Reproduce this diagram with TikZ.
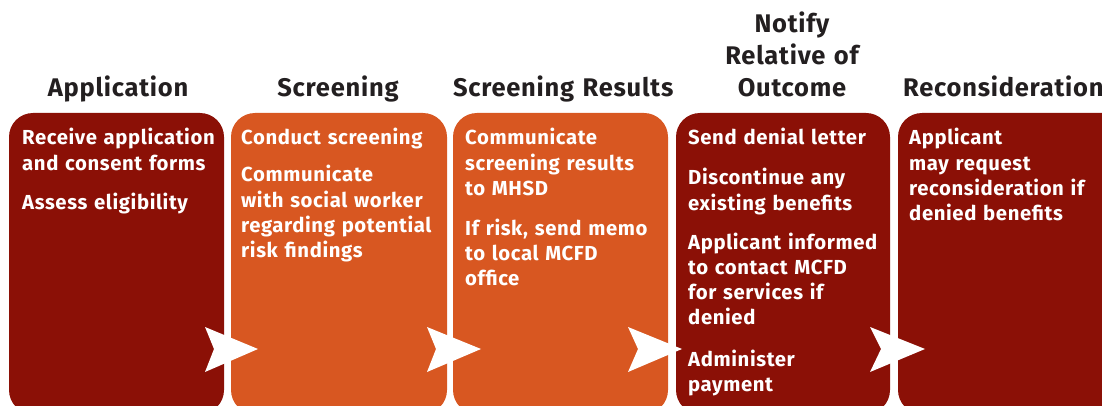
\documentclass[tikz,border=0pt]{standalone}
\usepackage{fontspec}
\setmainfont{Fira Sans}[LetterSpace=3]
\definecolor{wine}{HTML}{8B1006}
\definecolor{rust}{HTML}{D85721}
\definecolor{ink}{HTML}{231F20}
\begin{document}
\begin{tikzpicture}[x=1pt,y=-1pt,
  panel/.style={rounded corners=24pt},
  head/.style={font=\bfseries\fontsize{25.5}{32}\selectfont, text=ink,
    text width=220pt, align=center, anchor=base, inner sep=0pt},
  item/.style={font=\bfseries\fontsize{20.3}{25.3}\selectfont, text=white,
    text width=240pt, align=left, anchor=base west, inner sep=0pt},
  chevron/.style={fill=white}]
\useasboundingbox (0,0) rectangle (1102,406);
\clip (0,0) rectangle (1102,406);

% stage panels
\fill[wine, panel] (9,113)   rectangle (224,414);
\fill[rust, panel] (231,113) rectangle (447,414);
\fill[rust, panel] (453,113) rectangle (668,414);
\fill[wine, panel] (676,113) rectangle (890,414);
\fill[wine, panel] (898,113) rectangle (1140,414);

% stage titles
\node[head] (h1) at (118,97) {Application};
\node[head] (h2) at (338,97) {Screening};
\node[head] (h3) at (563,97) {Screening Results};
\node[head] (h4) at (792,33) {Notify\\Relative of\\Outcome};
\node[head, align=left, anchor=base west] (h5) at (903,97) {Reconsideration};

% panel contents
\node[item] (a1) at (22,145) {Receive application\\and consent forms};
\node[item] (a2) at (22,209) {Assess eligibility};

\node[item] (b1) at (241,145) {Conduct screening};
\node[item] (b2) at (241,182) {Communicate\\with social worker\\regarding potential\\risk findings};

\node[item] (c1) at (465,145) {Communicate\\screening results\\to MHSD};
\node[item] (c2) at (465,235) {If risk, send memo\\to local MCFD\\office};

\node[item] (d1) at (688,145) {Send denial letter};
\node[item] (d2) at (688,185) {Discontinue any\\existing benefits};
\node[item] (d3) at (688,249) {Applicant informed\\to contact MCFD\\for services if\\denied};
\node[item] (d4) at (688,366) {Administer\\payment};

\node[item] (e1) at (909,145) {Applicant\\may request\\reconsideration if\\denied benefits};

% white chevrons between the stages
\fill[chevron] (205,327) -- (258,349) -- (205,372) -- (214,349) -- cycle;
\fill[chevron] (427,327) -- (481,349) -- (427,372) -- (436,349) -- cycle;
\fill[chevron] (628,327) -- (682,349) -- (628,372) -- (638,349) -- cycle;
\fill[chevron] (870,327) -- (925,349) -- (870,372) -- (881,349) -- cycle;
\end{tikzpicture}
\end{document}
